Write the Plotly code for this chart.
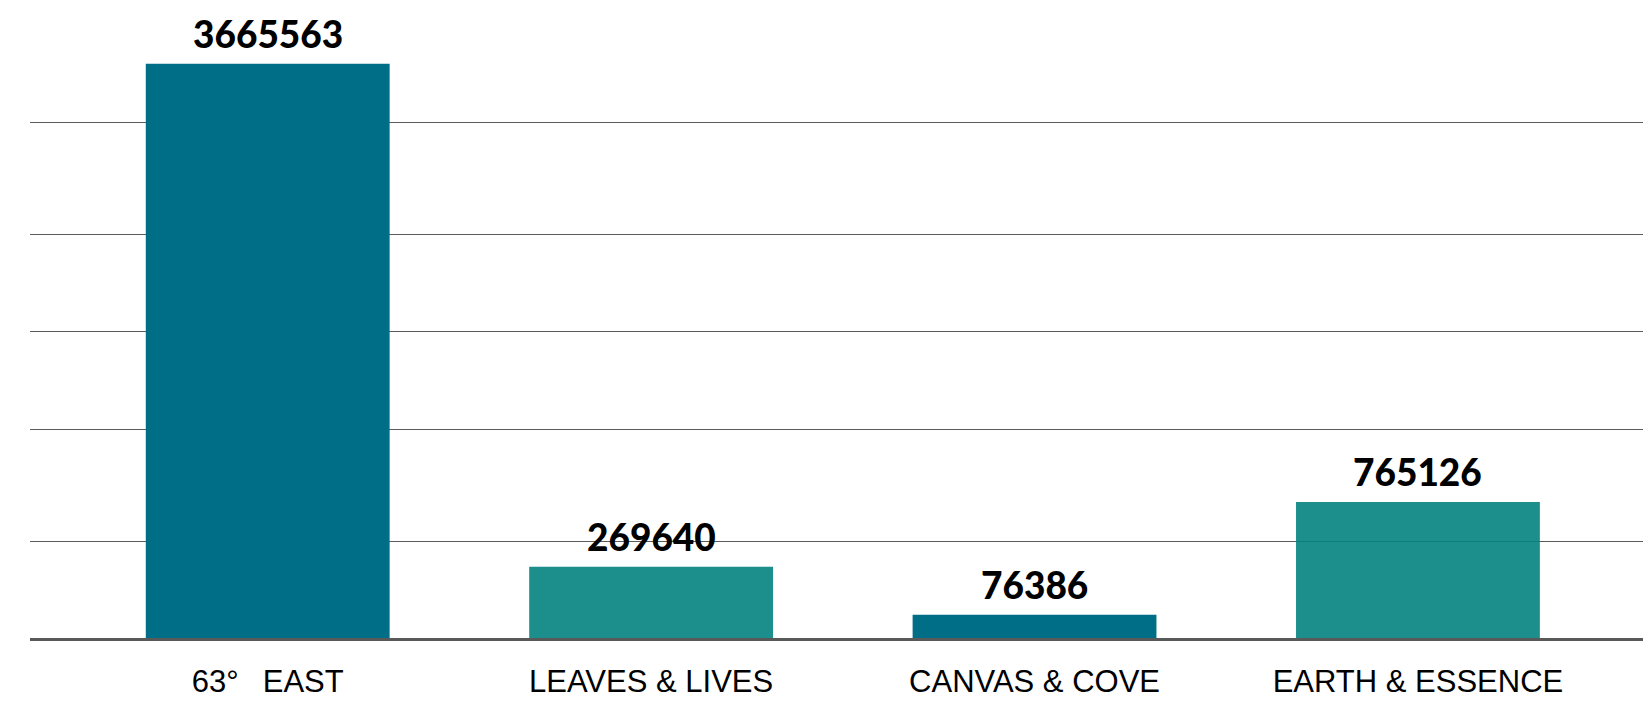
import plotly.graph_objects as go

# ---- data ----
categories = ["63° \u2002EAST", "LEAVES & LIVES", "CANVAS & COVE", "EARTH & ESSENCE"]
value_labels = [3665563, 269640, 76386, 765126]
# bar lengths as drawn, in % of the tallest bar (the y axis carries no labels)
bar_height_pct = [100.0, 12.42, 4.06, 23.68]
# unlabeled horizontal gridlines, same units
grid_pct = [16.72, 36.27, 53.39, 70.17, 89.67]
bar_colors = ["#006E87", "rgba(3,131,127,0.9)", "#006E87", "rgba(3,131,127,0.9)"]

fig = go.Figure(
    go.Bar(
        x=categories,
        y=bar_height_pct,
        width=0.636,
        marker=dict(color=bar_colors, line=dict(width=0)),
        hoverinfo="skip",
    )
)

for cat, h, v in zip(categories, bar_height_pct, value_labels):
    fig.add_annotation(
        x=cat,
        y=h,
        text=str(v),
        showarrow=False,
        xanchor="center",
        yanchor="bottom",
        yshift=6,
        font=dict(family="Lato", size=37, color="#000000", weight=900),
    )

fig.update_layout(
    width=1643,
    height=703,
    margin=dict(l=30, r=0, t=20, b=65, autoexpand=False),
    paper_bgcolor="#ffffff",
    plot_bgcolor="#ffffff",
    showlegend=False,
)

fig.update_xaxes(
    type="category",
    range=[-0.620, 3.587],
    showline=True,
    linecolor="#595959",
    linewidth=2.5,
    showgrid=False,
    ticks="",
    ticklabelstandoff=14,
    tickfont=dict(family="Liberation Sans", size=31, color="#000000"),
    automargin=False,
)

fig.update_yaxes(
    range=[0, 107.6],
    tickmode="array",
    tickvals=grid_pct,
    showticklabels=False,
    showgrid=True,
    gridcolor="#5a5a5a",
    gridwidth=1,
    zeroline=False,
    showline=False,
    automargin=False,
)

fig.write_html(
    "out.html",
    config={"displayModeBar": False},
    post_script="document.body.style.margin='0';document.body.style.overflow='hidden';",
)
